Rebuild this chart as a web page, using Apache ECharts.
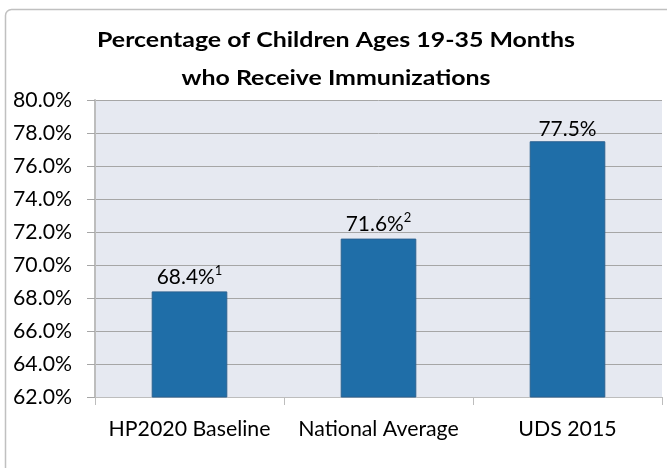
<!DOCTYPE html>
<html>
<head>
<meta charset="utf-8">
<script src="https://cdn.jsdelivr.net/npm/echarts@6/dist/echarts.min.js"></script>
<style>
html,body{margin:0;padding:0;background:#fff;}
#chart{width:667px;height:468px;}
</style>
</head>
<body>
<div id="chart"></div>
<script>
var categories = ['HP2020 Baseline', 'National Average', 'UDS 2015'];
var values = [68.4, 71.6, 77.5];
var footnotes = ['1', '2', ''];
var titleLines = ['Percentage of Children Ages 19-35 Months', 'who Receive Immunizations'];
var yMin = 62, yMax = 80, yStep = 2;

var FONT = 'Lato';
var mctx = document.createElement('canvas').getContext('2d');
function fitSize(text, weight, target) {
  mctx.font = weight + ' 20px ' + FONT;
  return 20 * target / mctx.measureText(text).width;
}
function textW(text, weight, size) {
  mctx.font = weight + ' ' + size + 'px ' + FONT;
  return mctx.measureText(text).width;
}
var ySize = fitSize('80.0%', 'normal', 59);
var xSize = fitSize('HP2020 Baseline', 'normal', 162);
var dSize = fitSize('68.4%', 'normal', 58);
var tSize = 21;
var tScale = 478 / textW(titleLines[0], 'bold', tSize);

var chart = echarts.init(document.getElementById('chart'), null, {renderer: 'canvas'});
chart.setOption({
  animation: false,
  backgroundColor: '#ffffff',
  graphic: [{
    type: 'rect',
    shape: {x: 5.5, y: 9.5, width: 700, height: 500, r: 6},
    style: {fill: 'none', stroke: '#c0c0c0', lineWidth: 1.5},
    z: -10
  }, {
    type: 'text', x: 336, y: 40, scaleX: tScale,
    style: {text: titleLines[0], x: 0, y: 0, textAlign: 'center', textVerticalAlign: 'middle',
      font: 'bold ' + tSize + 'px ' + FONT, fill: '#000'}
  }, {
    type: 'text', x: 336, y: 78, scaleX: tScale,
    style: {text: titleLines[1], x: 0, y: 0, textAlign: 'center', textVerticalAlign: 'middle',
      font: 'bold ' + tSize + 'px ' + FONT, fill: '#000'}
  }],
  grid: {left: 95, right: 5, top: 100, bottom: 71, show: true, backgroundColor: '#e6e9f1', borderWidth: 0},
  xAxis: {
    type: 'category',
    data: categories,
    axisLine: {show: true, lineStyle: {color: '#bdbdbd', width: 1}},
    axisTick: {show: true, length: 8, alignWithLabel: false, lineStyle: {color: '#bdbdbd'}},
    axisLabel: {fontFamily: FONT, fontSize: xSize, color: '#000', margin: 22, interval: 0, hideOverlap: false}
  },
  yAxis: {
    type: 'value',
    min: yMin, max: yMax, interval: yStep,
    axisLine: {show: true, lineStyle: {color: '#bdbdbd', width: 2}},
    axisTick: {show: true, length: 8, lineStyle: {color: '#a6a6a6'}},
    splitLine: {show: true, lineStyle: {color: '#a6a6a6', width: 1}},
    axisLabel: {fontFamily: FONT, fontSize: ySize, color: '#000', margin: 23,
      formatter: function (v) { return v.toFixed(1) + '%'; }}
  },
  series: [{
    type: 'bar',
    data: values,
    barWidth: '40%',
    itemStyle: {color: '#1f6ea8', borderColor: '#2b6190', borderWidth: 1},
    label: {
      show: true, position: 'top', distance: 1,
      formatter: function (p) {
        var fn = footnotes[p.dataIndex];
        return '{a|' + p.value.toFixed(1) + '%}' + (fn ? '{s|' + fn + '}' : '');
      },
      rich: {
        a: {fontFamily: FONT, fontSize: dSize, color: '#000'},
        s: {fontFamily: FONT, fontSize: Math.round(dSize * 0.62), color: '#000', verticalAlign: 'top', lineHeight: 26}
      }
    }
  }]
});
</script>
</body>
</html>
